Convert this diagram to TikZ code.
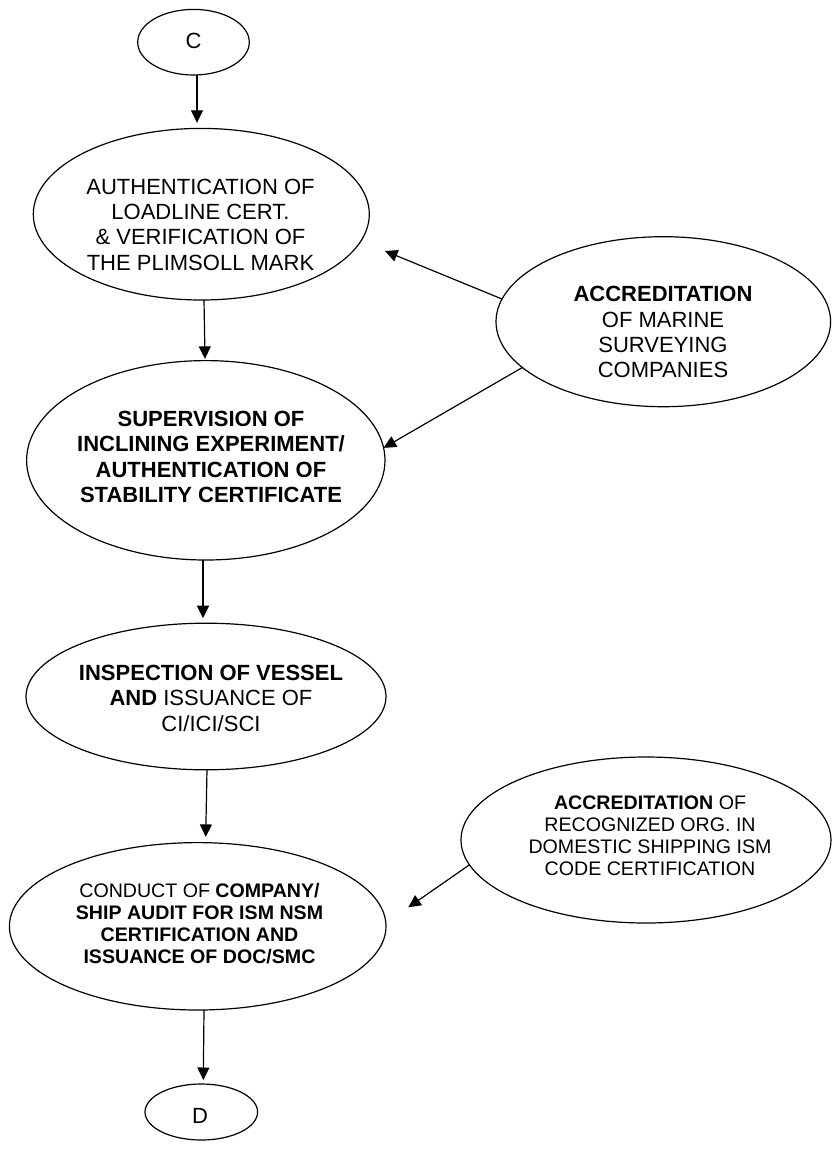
\documentclass[tikz,border=0pt]{standalone}
\usepackage{fontspec}
\setmainfont{Liberation Sans}
\usetikzlibrary{arrows.meta,shapes.geometric}
\begin{document}
\begin{tikzpicture}[x=1pt,y=-1pt,
  oval/.style={draw, ellipse, line width=1.2pt, inner sep=0pt, outer sep=0pt},
  lbl/.style={align=center, inner sep=0pt, font=\fontsize{22}{25.3}\selectfont},
  lblsm/.style={align=center, inner sep=0pt, font=\fontsize{19.6}{21.9}\selectfont},
  arr/.style={line width=1.2pt, -{Triangle[length=12.5pt,width=12pt]}}]
\useasboundingbox (0,0) rectangle (836,1151);
\fill[white] (0,0) rectangle (836,1151);

% ellipses of the flow
\node[oval, minimum width=111.6pt, minimum height=65.6pt] (C) at (193.5,42.2) {};
\node[oval, minimum width=336pt, minimum height=171.6pt] (A) at (201.3,214.2) {};
\node[oval, minimum width=334.6pt, minimum height=170pt] (acc1) at (663.3,321.7) {};
\node[oval, minimum width=358.4pt, minimum height=199.4pt] (B) at (205.8,460.3) {};
\node[oval, minimum width=360pt, minimum height=146.6pt] (insp) at (206,696.5) {};
\node[oval, minimum width=376.6pt, minimum height=167.4pt] (cond) at (197.7,926.3) {};
\node[oval, minimum width=370pt, minimum height=166pt] (acc2) at (646,840) {};
\node[oval, minimum width=112.6pt, minimum height=56pt] (D) at (201.3,1112) {};

% texts
\node[lbl] (Ct) at (193.5,41.3) {C};
\node[lbl] (At) at (200.5,224.7) {AUTHENTICATION OF\\LOADLINE CERT.\\\& VERIFICATION OF\\THE PLIMSOLL MARK};
\node[lbl] (acc1t) at (663,332.1) {\textbf{ACCREDITATION}\\OF MARINE\\SURVEYING\\COMPANIES};
\node[lbl, font=\fontsize{22}{25.3}\selectfont\bfseries] (Bt) at (211,457) {SUPERVISION OF\\INCLINING EXPERIMENT/\\AUTHENTICATION OF\\STABILITY CERTIFICATE};
\node[lbl] (inspt) at (211,698.3) {\textbf{INSPECTION OF VESSEL}\\\textbf{AND} ISSUANCE OF\\CI/ICI/SCI};
\node[lblsm] (condt) at (199.5,923.3) {CONDUCT OF \textbf{COMPANY/}\\\textbf{SHIP AUDIT FOR ISM NSM}\\\textbf{CERTIFICATION AND}\\\textbf{ISSUANCE OF DOC/SMC}};
\node[lblsm] (acc2t) at (650,835.8) {\textbf{ACCREDITATION} OF\\RECOGNIZED ORG. IN\\DOMESTIC SHIPPING ISM\\CODE CERTIFICATION};
\node[lbl] (Dt) at (200,1115.7) {D};

% free ends of the side arrows
\coordinate (p1) at (385,251);
\coordinate (p2) at (408.3,907.3);

% connectors
\draw[arr] ([xshift=3.5pt]C.south) -- ([xshift=-4.3pt,yshift=5.6pt]A.north);
\draw[arr] ([xshift=2.7pt]A.south) -- ([xshift=-0.8pt,yshift=1.7pt]B.north);
\draw[arr] ([xshift=-2.8pt]B.south) -- ([xshift=-3pt,yshift=5pt]insp.north);
\draw[arr] ([xshift=1pt]insp.south) -- ([xshift=8pt,yshift=5.7pt]cond.north);
\draw[arr] ([xshift=6.3pt]cond.south) -- ([xshift=2pt,yshift=4pt]D.north);
\draw[arr] (acc1.172) -- (p1);
\draw[arr] (acc1.198.5) -- (B.4);
\draw[arr] (acc2.188) -- (p2);
\end{tikzpicture}
\end{document}
